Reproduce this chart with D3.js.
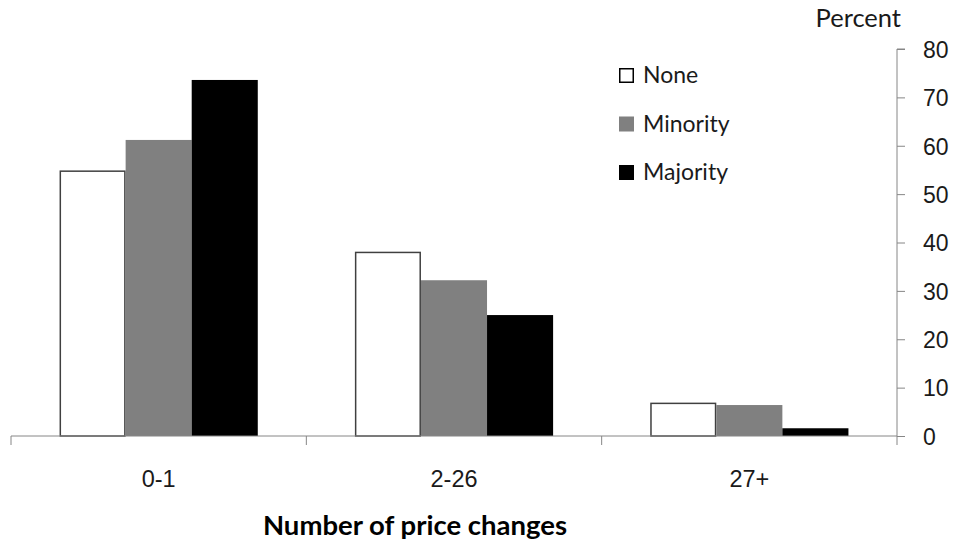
<!DOCTYPE html>
<html>
<head>
<meta charset="utf-8">
<script src="https://cdn.jsdelivr.net/npm/d3@7"></script>
<style>
  html, body { margin: 0; padding: 0; background: #fff; }
  svg { display: block; font-family: "Lato", "Open Sans", sans-serif; }
</style>
</head>
<body>
<svg id="chart" width="956" height="544"></svg>
<script>
// Share of products by number of price changes
const categories = ["0-1", "2-26", "27+"];
const seriesNames = ["None", "Minority", "Majority"];
const noneValues = [54.9, 38.1, 6.9];
const minorityValues = [61.2, 32.2, 6.4];
const majorityValues = [73.6, 25.0, 1.6];
const yTicks = [0, 10, 20, 30, 40, 50, 60, 70, 80];

const seriesValues = [noneValues, minorityValues, majorityValues];
const fills = ["#ffffff", "#808080", "#000000"];
const strokes = ["#404040", "none", "none"];

const svg = d3.select("#chart");
const plotLeft = 11, plotRight = 897, plotTop = 49, plotBottom = 436;

const x0 = d3.scaleBand().domain(categories).range([plotLeft, plotRight]).paddingInner(0).paddingOuter(0);
const x1 = d3.scaleBand().domain(seriesNames).range([0, x0.bandwidth()])
  .paddingInner(0).paddingOuter(0.735);
const y = d3.scaleLinear().domain([0, 80]).range([plotBottom, plotTop]);

// bars
const groups = svg.append("g").selectAll("g")
  .data(categories)
  .join("g")
  .attr("transform", d => `translate(${x0(d)},0)`);

groups.selectAll("rect")
  .data((c, ci) => seriesNames.map((s, si) => ({ s, si, v: seriesValues[si][ci] })))
  .join("rect")
  .attr("x", d => x1(d.s) + (d.si === 0 ? 0.75 : 0))
  .attr("width", d => x1.bandwidth() - (d.si === 0 ? 1.5 : 0))
  .attr("y", d => y(d.v) + (d.si === 0 ? 0.75 : 0))
  .attr("height", d => y(0) - y(d.v) - (d.si === 0 ? 0.75 : 0))
  .attr("fill", d => fills[d.si])
  .attr("stroke", d => strokes[d.si])
  .attr("stroke-width", 1.5);

// right value axis
const yAxis = d3.axisRight(y).tickValues(yTicks).tickSize(8).tickPadding(18);
const ya = svg.append("g").attr("transform", `translate(${plotRight},0)`).call(yAxis);
ya.select(".domain").attr("stroke", "#868686").attr("d", `M8,${plotTop}H0V${plotBottom}`);
ya.selectAll(".tick line").attr("stroke", "#868686");
ya.selectAll(".tick text").attr("fill", "#1a1a1a").style("font-size", "23px")
  .attr("dy", "0.36em");

// category axis
const xAxis = d3.axisBottom(x0).tickSize(0).tickPadding(34);
const xa = svg.append("g").attr("transform", `translate(0,${plotBottom})`).call(xAxis);
xa.select(".domain").attr("stroke", "#868686").attr("d", `M${plotLeft},0H${plotRight}`);
xa.selectAll(".tick text").attr("fill", "#1a1a1a").style("font-size", "23.5px");
// category boundary ticks
const bounds = categories.map(c => x0(c)).concat([plotRight]);
xa.selectAll(".bound").data(bounds).join("line")
  .attr("class", "bound")
  .attr("x1", d => d).attr("x2", d => d)
  .attr("y1", 0).attr("y2", 9)
  .attr("stroke", "#868686");

// axis titles
svg.append("text").attr("x", 901).attr("y", 27).attr("text-anchor", "end")
  .attr("fill", "#1a1a1a").style("font-size", "25.5px").text("Percent");
svg.append("text").attr("x", 415).attr("y", 535).attr("text-anchor", "middle")
  .attr("fill", "#000").style("font-size", "27.5px").style("font-weight", "bold")
  .text("Number of price changes");

// legend
const legend = svg.append("g").selectAll("g")
  .data(seriesNames)
  .join("g")
  .attr("transform", (d, i) => `translate(619,${68 + i * 48.5})`);
legend.append("rect")
  .attr("x", (d, i) => i === 0 ? 0.75 : 0)
  .attr("y", (d, i) => i === 0 ? 0.75 : 0)
  .attr("width", (d, i) => i === 0 ? 13.5 : 15)
  .attr("height", (d, i) => i === 0 ? 13.5 : 15)
  .attr("fill", (d, i) => fills[i])
  .attr("stroke", (d, i) => i === 0 ? "#000" : "none")
  .attr("stroke-width", 1.5);
legend.append("text").attr("x", 24).attr("y", 15)
  .attr("fill", "#1a1a1a").style("font-size", "23px").text(d => d);
</script>
</body>
</html>
